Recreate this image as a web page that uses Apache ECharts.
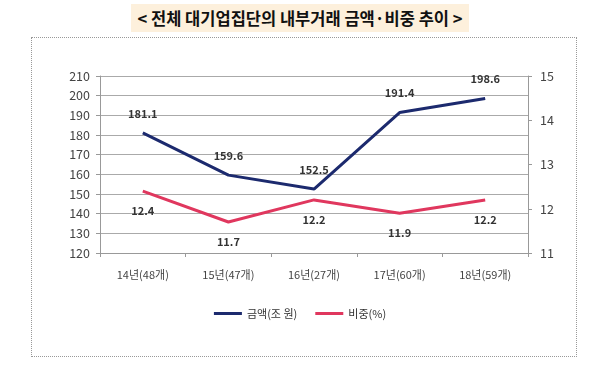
<!DOCTYPE html>
<html><head><meta charset="utf-8">
<script src="https://cdn.jsdelivr.net/npm/echarts@6/dist/echarts.min.js"></script>
<style>
html,body{margin:0;padding:0;background:#fff;}
#title{position:absolute;left:0;top:6px;width:600px;text-align:center;font-family:"Noto Sans CJK KR","Noto Sans";font-weight:bold;font-size:16.5px;color:#111;}
#title span{background:#fdf0dc;padding:2px 7px;}
#box{position:absolute;left:31px;top:37px;width:544px;height:318px;border:1px dotted #999;}
#c{position:absolute;left:0;top:0;width:600px;height:368px;}
</style></head>
<body>
<div id="title"><span>&lt; 전체 대기업집단의 내부거래 금액·비중 추이 &gt;</span></div>
<div id="box"></div>
<div id="c"></div>
<script>
const categories = ['14년(48개)','15년(47개)','16년(27개)','17년(60개)','18년(59개)'];
const amount = [181.1,159.6,152.5,191.4,198.6];
const ratio = [12.4,11.7,12.2,11.9,12.2];
const leftTicks = [120,210,10];
const rightTicks = [11,15,1];
const chart = echarts.init(document.getElementById('c'));
const font = '"Noto Sans CJK KR","Noto Sans",sans-serif';
chart.setOption({
  animation:false,
  grid:{left:100,right:72,top:76,bottom:115,containLabel:false},
  legend:{bottom:44,left:'center',itemWidth:28,itemHeight:3,icon:'rect',itemGap:18,
    textStyle:{fontFamily:font,fontSize:11,color:'#333'},
    data:['금액(조 원)','비중(%)']},
  xAxis:{type:'category',data:categories,boundaryGap:true,
    axisLine:{lineStyle:{color:'#999'}},axisTick:{show:true,length:4,lineStyle:{color:'#999'}},
    axisLabel:{fontFamily:font,fontSize:11,color:'#444',margin:16}},
  yAxis:[
    {type:'value',min:leftTicks[0],max:leftTicks[1],interval:leftTicks[2],
     axisLine:{show:true,lineStyle:{color:'#999'}},axisTick:{show:true,length:4,lineStyle:{color:'#999'}},
     axisLabel:{fontFamily:font,fontSize:12.5,color:'#444',margin:10},
     splitLine:{lineStyle:{color:'#aaa'}}},
    {type:'value',min:rightTicks[0],max:rightTicks[1],interval:rightTicks[2],
     axisLine:{show:true,lineStyle:{color:'#999'}},axisTick:{show:true,length:4,lineStyle:{color:'#999'}},
     axisLabel:{fontFamily:font,fontSize:12.5,color:'#444',margin:12},
     splitLine:{show:false}}
  ],
  series:[
    {name:'금액(조 원)',type:'line',data:amount,yAxisIndex:0,showSymbol:true,symbol:'circle',symbolSize:0,
     lineStyle:{color:'#1c2a6e',width:3},itemStyle:{color:'#1c2a6e'},
     label:{show:true,position:'top',distance:14,fontFamily:font,fontSize:11,fontWeight:'bold',color:'#333'}},
    {name:'비중(%)',type:'line',data:ratio,yAxisIndex:1,showSymbol:true,symbol:'circle',symbolSize:0,
     lineStyle:{color:'#e0375e',width:3},itemStyle:{color:'#e0375e'},
     label:{show:true,position:'bottom',distance:14,fontFamily:font,fontSize:11,fontWeight:'bold',color:'#333'}}
  ]
});
</script>
</body></html>
